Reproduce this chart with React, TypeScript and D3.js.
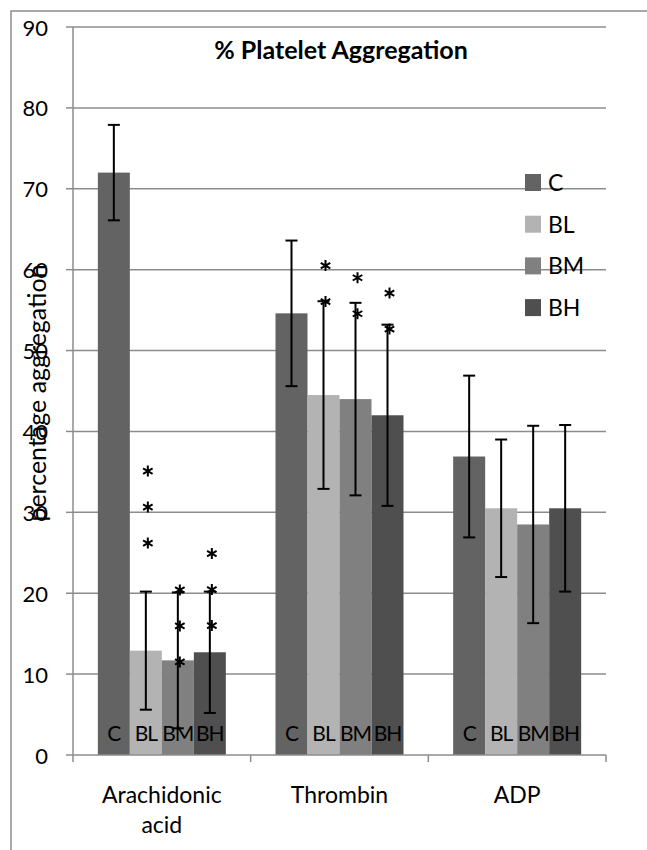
import * as d3 from 'd3';

// chart data
const categories = ['Arachidonic acid', 'Thrombin', 'ADP'];
const categoryLines = [['Arachidonic', 'acid'], ['Thrombin'], ['ADP']];
const series = ['C', 'BL', 'BM', 'BH'];
const seriesColors = ['#636363', '#b3b3b3', '#808080', '#4f4f4f'];

const valuesC = [72.0, 54.6, 36.9];
const valuesBL = [12.9, 44.5, 30.5];
const valuesBM = [11.7, 44.0, 28.5];
const valuesBH = [12.7, 42.0, 30.5];

const errC = [5.9, 9.0, 10.0];
const errBL = [7.3, 11.6, 8.5];
const errBM = [8.4, 11.9, 12.2];
const errBH = [7.5, 11.2, 10.3];

const yTicks = [0, 10, 20, 30, 40, 50, 60, 70, 80, 90];

// significance stars: category, series, count, value of the top star
const starCategory = [0, 0, 0, 1, 1, 1];
const starSeries = [1, 2, 3, 1, 2, 3];
const starCount = [3, 3, 3, 2, 2, 2];
const starTop = [35.1, 20.4, 24.9, 60.5, 59.0, 57.1];
const starStep = 4.45;

const values = [valuesC, valuesBL, valuesBM, valuesBH];
const errors = [errC, errBL, errBM, errBH];

const W = 647;
const H = 850;
const PLOT = { left: 73, right: 606, top: 27, bottom: 755 };
const FONT = 'Lato, "Open Sans", sans-serif';
const GRID = '#8c8c8c';

// six-armed asterisk drawn as a path
const starPath = (cx: number, cy: number, r: number) =>
  [90, 30, 150]
    .map((deg) => {
      const a = (deg * Math.PI) / 180;
      const dx = Math.cos(a) * r;
      const dy = Math.sin(a) * r;
      return `M${cx - dx},${cy - dy}L${cx + dx},${cy + dy}`;
    })
    .join('');

export default function App() {
  const x0 = d3.scaleBand<string>().domain(categories).range([PLOT.left, PLOT.right]);
  const groupW = 128;
  const x1 = d3.scaleBand<string>().domain(series).range([0, groupW]);
  const y = d3.scaleLinear().domain([0, 90]).range([PLOT.bottom, PLOT.top]);

  const groupStart = (c: string) => (x0(c) ?? 0) + (x0.bandwidth() - groupW) / 2;
  const barCenter = (ci: number, si: number) =>
    groupStart(categories[ci]) + (x1(series[si]) ?? 0) + x1.bandwidth() / 2;

  const capHalf = 6;

  return (
    <svg
      width={W}
      height={H}
      style={{ position: 'absolute', left: 0, top: 0, background: '#fff' }}
      fontFamily={FONT}
    >
      <rect x={0} y={0} width={W} height={H} fill="#fff" />
      {/* outer chart frame */}
      <rect x={11} y={11} width={W + 20} height={H + 20} fill="none" stroke={GRID} strokeWidth={1.5} />

      {/* grid */}
      {yTicks.map((t) => (
        <g key={`g${t}`}>
          {t > 0 && (
            <line x1={PLOT.left} x2={PLOT.right} y1={y(t)} y2={y(t)} stroke={GRID} strokeWidth={1.5} />
          )}
          <line x1={PLOT.left - 7} x2={PLOT.left} y1={y(t)} y2={y(t)} stroke={GRID} strokeWidth={1.5} />
          <text x={48} y={y(t)} textAnchor="end" dominantBaseline="central" fontSize={22} fill="#000">
            {t}
          </text>
        </g>
      ))}

      {/* bars */}
      {categories.map((c, ci) => (
        <g key={c}>
          {series.map((s, si) => (
            <rect
              key={s}
              x={groupStart(c) + (x1(s) ?? 0)}
              y={y(values[si][ci])}
              width={x1.bandwidth()}
              height={y(0) - y(values[si][ci])}
              fill={seriesColors[si]}
            />
          ))}
        </g>
      ))}

      {/* axes */}
      <line x1={PLOT.left} x2={PLOT.left} y1={PLOT.top} y2={PLOT.bottom + 7} stroke={GRID} strokeWidth={1.5} />
      <line x1={PLOT.left} x2={PLOT.right} y1={PLOT.bottom} y2={PLOT.bottom} stroke={GRID} strokeWidth={1.5} />
      {categories.map((c) => (
        <line
          key={`t${c}`}
          x1={(x0(c) ?? 0) + x0.bandwidth()}
          x2={(x0(c) ?? 0) + x0.bandwidth()}
          y1={PLOT.bottom}
          y2={PLOT.bottom + 7}
          stroke={GRID}
          strokeWidth={1.5}
        />
      ))}

      {/* series labels inside the bars */}
      {categories.map((c, ci) =>
        series.map((s, si) => (
          <text
            key={`l${c}${s}`}
            x={barCenter(ci, si)}
            y={741}
            textAnchor="middle"
            fontSize={21}
            fill="#000"
            letterSpacing={-1}
          >
            {s}
          </text>
        ))
      )}

      {/* error bars */}
      {categories.map((c, ci) =>
        series.map((s, si) => {
          const cx = barCenter(ci, si);
          const hi = y(values[si][ci] + errors[si][ci]);
          const lo = y(values[si][ci] - errors[si][ci]);
          return (
            <g key={`e${c}${s}`} stroke="#000" strokeWidth={2}>
              <line x1={cx} x2={cx} y1={hi} y2={lo} />
              <line x1={cx - capHalf} x2={cx + capHalf} y1={hi} y2={hi} />
              <line x1={cx - capHalf} x2={cx + capHalf} y1={lo} y2={lo} />
            </g>
          );
        })
      )}

      {/* stars */}
      {starCategory.map((ci, k) =>
        d3.range(starCount[k]).map((j) => (
          <path
            key={`s${k}-${j}`}
            d={starPath(barCenter(ci, starSeries[k]) + 2, y(starTop[k] - j * starStep), 5.5)}
            stroke="#000"
            strokeWidth={2}
            fill="none"
          />
        ))
      )}

      {/* category labels */}
      {categories.map((c, ci) => (
        <text key={`c${c}`} x={(x0(c) ?? 0) + x0.bandwidth() / 2} textAnchor="middle" fontSize={23} fill="#000">
          {categoryLines[ci].map((line, li) => (
            <tspan key={li} x={(x0(c) ?? 0) + x0.bandwidth() / 2} y={803 + li * 30}>
              {line}
            </tspan>
          ))}
        </text>
      ))}

      {/* title */}
      <text x={341} y={49} textAnchor="middle" dominantBaseline="central" fontSize={25} fontWeight="bold" fill="#000">
        % Platelet Aggregation
      </text>

      {/* y axis title */}
      <text
        transform={`translate(36,393) rotate(-90)`}
        textAnchor="middle"
        dominantBaseline="central"
        fontSize={25}
        fill="#000"
      >
        percentage aggregation
      </text>

      {/* legend */}
      {series.map((s, si) => (
        <g key={`lg${s}`} transform={`translate(525, ${182 + si * 41.7})`}>
          <rect x={0} y={-8} width={16} height={17} fill={seriesColors[si]} />
          <text x={23} y={0} dominantBaseline="central" fontSize={23} fill="#000">
            {s}
          </text>
        </g>
      ))}
    </svg>
  );
}
